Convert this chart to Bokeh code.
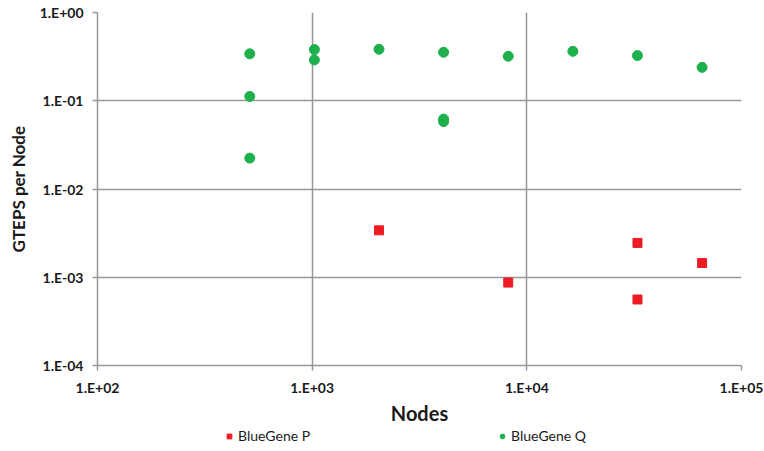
from bokeh.plotting import figure
from bokeh.layouts import column
from bokeh.models import (ColumnDataSource, FixedTicker, CustomJSTickFormatter,
                          Legend, LegendItem, Range1d)
from bokeh.embed import file_html
from bokeh.resources import INLINE

# Nodes vs GTEPS per node
p_nodes = [2048, 8192, 32768, 32768, 65536]
p_gteps = [3.4e-3, 8.7e-4, 2.45e-3, 5.6e-4, 1.45e-3]

q_nodes = [512, 512, 512, 1024, 1024, 2048, 4096, 4096, 4096, 8192, 16384, 32768, 65536]
q_gteps = [0.34, 0.112, 0.0224, 0.38, 0.29, 0.383, 0.354, 0.062, 0.058, 0.319, 0.363, 0.325, 0.239]

series_names = ["BlueGene P", "BlueGene Q"]

x_ticks = [1e2, 1e3, 1e4, 1e5]
y_ticks = [1e-4, 1e-3, 1e-2, 1e-1, 1e0]

FONT = "Lato"
GRID = "#979797"
TEXT = "#1a1a1a"
RED = "#ED1C24"
GREEN = "#1FB04E"

MAIN_H = 427

p = figure(width=764, height=MAIN_H, x_axis_type="log", y_axis_type="log",
           x_range=Range1d(1e2, 1e5), y_range=Range1d(1e-4, 1e0),
           output_backend="svg", toolbar_location=None,
           min_border_left=97, min_border_right=23, min_border_top=12,
           min_border_bottom=56, outline_line_color=None)

src_p = ColumnDataSource(dict(x=p_nodes, y=p_gteps))
src_q = ColumnDataSource(dict(x=q_nodes, y=q_gteps))
p.scatter("x", "y", source=src_p, marker="square", size=9,
          fill_color=RED, line_color=RED)
p.scatter("x", "y", source=src_q, marker="circle", size=10,
          fill_color=GREEN, line_color=GREEN)

fmt = CustomJSTickFormatter(code="""
const e = Math.round(Math.log10(tick));
const s = e < 0 ? "-" : "+";
return "1.E" + s + String(Math.abs(e)).padStart(2, "0");
""")

for ax, ticks in ((p.xaxis, x_ticks), (p.yaxis, y_ticks)):
    ax.ticker = FixedTicker(ticks=ticks, minor_ticks=[])
    ax.formatter = fmt
    ax.axis_line_color = GRID
    ax.axis_line_width = 1.5
    ax.major_tick_line_color = GRID
    ax.major_tick_line_width = 1.5
    ax.major_tick_out = 5
    ax.major_tick_in = 0
    ax.minor_tick_line_color = None
    ax.major_label_text_font = FONT
    ax.major_label_text_font_style = "bold"
    ax.major_label_text_font_size = "14px"
    ax.major_label_text_color = TEXT
    ax.axis_label_text_font = FONT
    ax.axis_label_text_font_style = "bold"
    ax.axis_label_text_color = TEXT

p.xaxis.axis_label = "Nodes"
p.xaxis.axis_label_text_font_size = "20px"
p.xaxis.major_label_standoff = 8
p.xaxis.axis_label_standoff = 2
p.yaxis.axis_label = "GTEPS per Node"
p.yaxis.axis_label_text_font_size = "17px"
p.yaxis.major_label_standoff = 9
p.yaxis.axis_label_standoff = 8

p.xgrid.grid_line_color = GRID
p.ygrid.grid_line_color = GRID
p.xgrid.grid_line_width = 1.5
p.ygrid.grid_line_width = 1.5
p.xgrid.ticker = FixedTicker(ticks=x_ticks)
p.ygrid.ticker = FixedTicker(ticks=y_ticks)

# Legend strip underneath the chart; its swatches reuse the series sources
# (the points themselves fall outside this strip's 0..1 ranges)
lf = figure(width=764, height=451 - MAIN_H, x_range=Range1d(0, 1), y_range=Range1d(0, 1),
            output_backend="svg", toolbar_location=None,
            x_axis_location=None, y_axis_location=None,
            min_border=0, outline_line_color=None)
lf.grid.visible = False
sw_p = lf.scatter("x", "y", source=src_p, marker="square", size=9,
                  fill_color=RED, line_color=RED)
sw_q = lf.scatter("x", "y", source=src_q, marker="circle", size=10,
                  fill_color=GREEN, line_color=GREEN)
legend = Legend(items=[LegendItem(label=series_names[0], renderers=[sw_p]),
                       LegendItem(label=series_names[1], renderers=[sw_q])],
                location=(126, 7), orientation="horizontal",
                border_line_color=None, background_fill_alpha=0,
                padding=0, margin=0, spacing=186,
                glyph_width=12, glyph_height=14,
                label_standoff=3, label_height=14, label_width=70,
                label_text_font=FONT, label_text_font_size="14px",
                label_text_color=TEXT)
lf.add_layout(legend, "center")

open("out.html", "w").write(file_html(column(p, lf, spacing=0), INLINE))
